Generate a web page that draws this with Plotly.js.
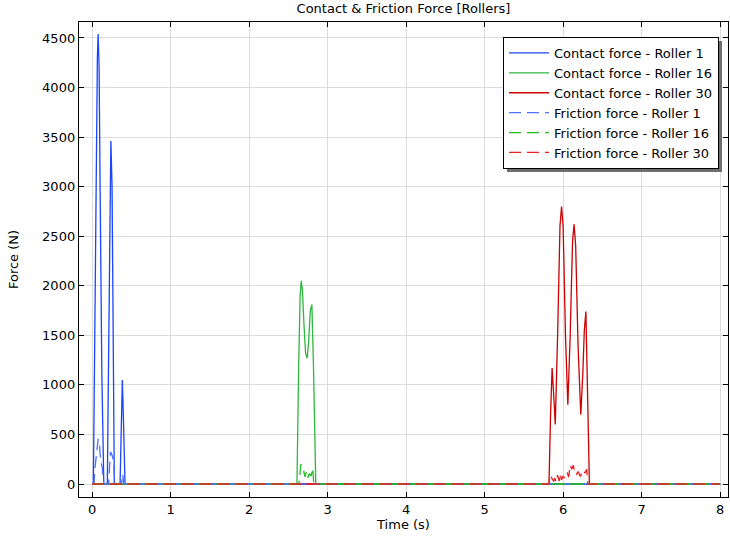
<!DOCTYPE html>
<html>
<head>
<meta charset="utf-8">
<script src="https://cdn.plot.ly/plotly-3.0.1.min.js"></script>
<style>html,body{margin:0;padding:0;background:#fff;}#chart{width:730px;height:539px;}</style>
</head>
<body>
<div id="chart"></div>
<script>
// ---- Data ----
const seriesNames = [
  "Contact force - Roller 1",
  "Contact force - Roller 16",
  "Contact force - Roller 30",
  "Friction force - Roller 1",
  "Friction force - Roller 16",
  "Friction force - Roller 30"
];

// Contact force - Roller 1
const contactR1_t = [0, 0.017, 0.035, 0.055, 0.068, 0.078, 0.09, 0.105, 0.125, 0.15, 0.195, 0.21, 0.225, 0.24, 0.255, 0.27, 0.284, 0.357, 0.372, 0.386, 0.40, 0.42, 8];
const contactR1_v = [0, 0, 1500, 3400, 4300, 4540, 4200, 2800, 1100, 0, 0, 1200, 2700, 3460, 3000, 1300, 0, 0, 600, 1050, 650, 0, 0];

// Contact force - Roller 16
const contactR16_t = [0, 2.61, 2.63, 2.65, 2.665, 2.68, 2.70, 2.72, 2.74, 2.76, 2.78, 2.80, 2.82, 2.85, 8];
const contactR16_v = [0, 0, 1100, 1900, 2050, 1950, 1600, 1320, 1270, 1450, 1750, 1810, 1200, 0, 0];

// Contact force - Roller 30
const contactR30_t = [0, 5.82, 5.84, 5.86, 5.88, 5.90, 5.93, 5.96, 5.98, 6.00, 6.03, 6.06, 6.09, 6.12, 6.14, 6.16, 6.19, 6.225, 6.25, 6.27, 6.29, 6.31, 6.335, 8];
const contactR30_v = [0, 0, 700, 1170, 900, 600, 1500, 2600, 2800, 2600, 1500, 800, 1500, 2450, 2620, 2400, 1400, 700, 1100, 1550, 1740, 1000, 0, 0];

// Friction force - Roller 1
const frictionR1_t = [0, 0.025, 0.04, 0.05, 0.065, 0.078, 0.095, 0.11, 0.13, 0.15, 0.21, 0.235, 0.255, 0.275, 0.29, 0.375, 0.39, 0.405, 8];
const frictionR1_v = [0, 0, 180, 240, 350, 455, 400, 230, 170, 0, 0, 325, 290, 230, 0, 0, 100, 0, 0];

// Friction force - Roller 16
const frictionR16_t = [0, 2.635, 2.66, 2.69, 2.71, 2.73, 2.745, 2.765, 2.79, 2.81, 2.825, 8];
const frictionR16_v = [0, 0, 200, 158, 74, 120, 55, 105, 80, 160, 0, 0];

// Friction force - Roller 30
const frictionR30_t = [0, 5.82, 5.834, 5.86, 5.88, 5.895, 5.91, 5.93, 5.95, 5.965, 5.98, 6.00, 6.02, 6.05, 6.07, 6.09, 6.11, 6.13, 6.15, 6.17, 6.19, 6.22, 6.25, 6.28, 6.30, 6.315, 8];
const frictionR30_v = [0, 0, 90, 55, 25, 60, 20, 90, 30, 105, 40, 80, 60, 120, 70, 190, 150, 190, 100, 95, 125, 75, 140, 110, 150, 0, 0];

// Tick labels
const xTicks = [0, 1, 2, 3, 4, 5, 6, 7, 8];
const yTicks = [0, 500, 1000, 1500, 2000, 2500, 3000, 3500, 4000, 4500];

// ---- Styling ----
const colors = ["#1a44ff", "#2db83d", "#cc0000", "#4d70ff", "#22bb22", "#e82020"];
const FONT = "DejaVu Sans, Verdana, sans-serif";
const FS = 13;

function mk(i, t, v, dashed, rank) {
  return {
    type: "scatter", mode: "lines", name: seriesNames[i], x: t, y: v,
    legendrank: rank,
    line: {color: colors[i], width: 1.3, dash: dashed ? "12px,6px" : "solid"},
    hoverinfo: "skip"
  };
}

// draw order chosen so that the zero line looks like the reference; legend order via legendrank
const traces = [
  mk(0, contactR1_t, contactR1_v, false, 1),
  mk(2, contactR30_t, contactR30_v, false, 3),
  mk(1, contactR16_t, contactR16_v, false, 2),
  mk(3, frictionR1_t, frictionR1_v, true, 4),
  mk(4, frictionR16_t, frictionR16_v, true, 5),
  mk(5, frictionR30_t, frictionR30_v, true, 6)
];

const L = 79, R = 728, T = 22, B = 497;
const W = 730, H = 539;
const pw = R - L, ph = B - T;
function px(x) { return (x - L) / pw; }
function py(y) { return (B - y) / ph; }

const axisCommon = {
  showline: true, linecolor: "#000", linewidth: 1.2, mirror: "ticks",
  ticks: "inside", ticklen: 5, tickwidth: 1, tickcolor: "#000",
  showgrid: true, gridcolor: "#dcdcdc", gridwidth: 1,
  zeroline: false,
  tickfont: {family: FONT, size: FS, color: "#000"}
};

const layout = {
  width: W, height: H,
  paper_bgcolor: "#fff", plot_bgcolor: "#fff",
  margin: {l: L, r: W - R, t: T, b: H - B, pad: 0},
  title: {text: "Contact &amp; Friction Force [Rollers]", font: {family: FONT, size: FS, color: "#000"},
          x: 0.5, xref: "paper", xanchor: "center", y: 1 - 8 / H, yref: "container", yanchor: "middle"},
  xaxis: Object.assign({}, axisCommon, {
    range: [-0.166, 8.10], tickvals: xTicks, ticktext: xTicks.map(String),
    title: {text: "Time (s)", font: {family: FONT, size: FS, color: "#000"}, standoff: 4}
  }),
  yaxis: Object.assign({}, axisCommon, {
    range: [-131, 4661], tickvals: yTicks, ticktext: yTicks.map(String),
    title: {text: "Force (N)", font: {family: FONT, size: FS, color: "#000"}, standoff: 20}
  }),
  showlegend: true,
  legend: {
    x: px(503), y: py(37), xanchor: "left", yanchor: "top",
    bgcolor: "#fff", bordercolor: "#000", borderwidth: 1,
    font: {family: FONT, size: FS, color: "#000"},
    tracegroupgap: 0, itemwidth: 40
  },
  shapes: [{
    type: "rect", xref: "paper", yref: "paper", layer: "above",
    x0: px(507), x1: px(722), y0: py(172), y1: py(41),
    fillcolor: "#6e6e6e", line: {width: 0}
  }]
};

Plotly.newPlot("chart", traces, layout, {displayModeBar: false, staticPlot: true});
</script>
</body>
</html>
